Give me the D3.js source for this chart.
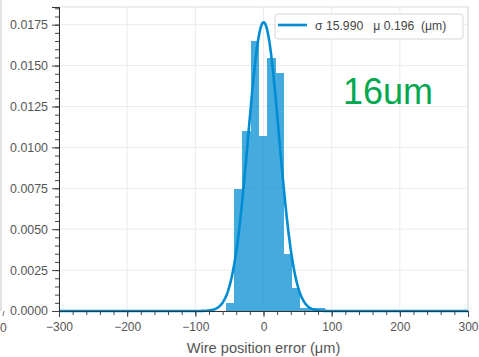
<!DOCTYPE html>
<html>
<head>
<meta charset="utf-8">
<script src="https://cdn.jsdelivr.net/npm/d3@7"></script>
<style>
  html, body { margin: 0; padding: 0; background: #fff; }
  svg { display: block; font-family: "Liberation Sans", Arial, sans-serif; }
  text { white-space: pre; }
</style>
</head>
<body>
<svg id="chart" width="479" height="357"></svg>
<script>
// Histogram of wire position errors (density) with fitted normal curve
const binEdges = [-55.4, -43.2, -31.0, -18.9, -6.7, 5.5, 17.7, 29.8, 42.0, 54.2, 66.4, 78.6, 90.8];
const density  = [0.00046, 0.00744, 0.0110, 0.01652, 0.01072, 0.01548, 0.01453, 0.00347, 0.00139, 0.0002, 0.0002, 0.0002];

const fitSigma = 15.990;   // µm
const fitMu = 0.196;       // µm
const xTicks = [-300, -200, -100, 0, 100, 200, 300];
const yTicks = [0, 0.0025, 0.005, 0.0075, 0.01, 0.0125, 0.015, 0.0175];
const xLabel = "Wire position error (μm)";
const note = "16um";

const W = 479, H = 357;
const m = { left: 59, top: 7, right: 11, bottom: 46 };
const iw = W - m.left - m.right, ih = H - m.top - m.bottom;

const svg = d3.select("#chart");
const x = d3.scaleLinear().domain([-300, 300]).range([m.left, m.left + iw]);
const y = d3.scaleLinear().domain([0, 0.01858]).range([m.top + ih, m.top]);

const blue = "#008cd2";
const axisGray = "#444";
const labelGray = "#555";

// remnants of the neighbouring panel at the left edge
svg.append("line").attr("x1", 1).attr("x2", 1).attr("y1", 0).attr("y2", 311)
  .attr("stroke", "#d8d8d8").attr("stroke-width", 1.5);
svg.append("line").attr("x1", 4).attr("x2", 3).attr("y1", 311).attr("y2", 316)
  .attr("stroke", "#777").attr("stroke-width", 1);
svg.append("text").attr("x", 0).attr("y", 332).attr("text-anchor", "start")
  .attr("font-size", 12).attr("fill", labelGray).text("0");

// grid
const grid = svg.append("g");
grid.selectAll(".gx").data(xTicks).join("line")
  .attr("x1", d => x(d)).attr("x2", d => x(d))
  .attr("y1", m.top).attr("y2", m.top + ih)
  .attr("stroke", "#ececec").attr("stroke-width", 1);
grid.selectAll(".gy").data(yTicks).join("line")
  .attr("x1", m.left).attr("x2", m.left + iw)
  .attr("y1", d => y(d)).attr("y2", d => y(d))
  .attr("stroke", "#ececec").attr("stroke-width", 1);

// frame (top/right)
svg.append("path")
  .attr("d", `M${m.left},${m.top}H${m.left + iw}V${m.top + ih}`)
  .attr("fill", "none").attr("stroke", "#dcdcdc").attr("stroke-width", 1.2);

// histogram bars (snapped to whole pixels so neighbours meet without seams)
const bins = density.map((d, i) => ({ x0: binEdges[i], x1: binEdges[i + 1], v: d }));
svg.append("g").attr("shape-rendering", "crispEdges")
  .selectAll("rect").data(bins).join("rect")
  .attr("x", d => Math.round(x(d.x0)))
  .attr("width", d => Math.round(x(d.x1)) - Math.round(x(d.x0)))
  .attr("y", d => Math.round(y(d.v)))
  .attr("height", d => Math.round(y(0)) - Math.round(y(d.v)))
  .attr("fill", blue).attr("fill-opacity", 0.73);

// normal curve (plotted width uses sigma·√2)
const sPlot = fitSigma * Math.SQRT2;
const pdf = v => Math.exp(-0.5 * ((v - fitMu) / sPlot) ** 2) / (sPlot * Math.sqrt(2 * Math.PI));
const xs = d3.range(-300, 300.01, 1);
svg.append("path")
  .datum(xs)
  .attr("d", d3.line().x(d => x(d)).y(d => y(pdf(d))))
  .attr("fill", "none").attr("stroke", blue).attr("stroke-width", 2.6);

// axes
const xMinor = d3.range(-300, 300.01, 20);
const yMinor = d3.range(0, 0.01858, 0.0005);

const xAxis = svg.append("g").attr("transform", `translate(0,${m.top + ih})`);
xAxis.call(d3.axisBottom(x).tickValues(xMinor).tickSize(4).tickFormat(""));
xAxis.append("g").call(d3.axisBottom(x).tickValues(xTicks).tickSize(6)
  .tickFormat(d => d < 0 ? "\u2212" + Math.abs(d) : d).tickPadding(5));
xAxis.selectAll("path").attr("stroke", "#333");
xAxis.selectAll("line").attr("stroke", axisGray);
xAxis.selectAll("text").attr("font-size", 12).attr("fill", labelGray)
  .attr("font-family", "Liberation Sans, Arial, sans-serif");

const yAxis = svg.append("g").attr("transform", `translate(${m.left},0)`);
yAxis.call(d3.axisLeft(y).tickValues(yMinor).tickSize(4).tickFormat(""));
yAxis.append("g").call(d3.axisLeft(y).tickValues(yTicks).tickSize(7)
  .tickFormat(d3.format(".4f")).tickPadding(4));
yAxis.selectAll("path").attr("stroke", "#333");
yAxis.selectAll("line").attr("stroke", axisGray);
yAxis.selectAll("text").attr("font-size", 12.4).attr("fill", labelGray)
  .attr("font-family", "Liberation Sans, Arial, sans-serif");

// x-axis title
svg.append("text")
  .attr("x", x(0)).attr("y", 353).attr("text-anchor", "middle")
  .attr("font-size", 14.6).attr("fill", labelGray).text(xLabel);

// legend
const lg = svg.append("g");
lg.append("rect").attr("x", 275).attr("y", 14).attr("width", 188).attr("height", 25)
  .attr("rx", 3).attr("fill", "#fff").attr("stroke", "#d6d6d6");
lg.append("line").attr("x1", 278).attr("x2", 307).attr("y1", 25).attr("y2", 25)
  .attr("stroke", blue).attr("stroke-width", 2.6);
lg.append("text").attr("x", 315).attr("y", 29.5).attr("font-size", 12.2).attr("fill", "#444")
  .text(`σ ${fitSigma.toFixed(3)}   μ ${fitMu.toFixed(3)}  (μm)`);

// annotation
svg.append("text").attr("x", 343).attr("y", 104).attr("font-size", 36)
  .attr("fill", "#00a84f").text(note);
</script>
</body>
</html>
